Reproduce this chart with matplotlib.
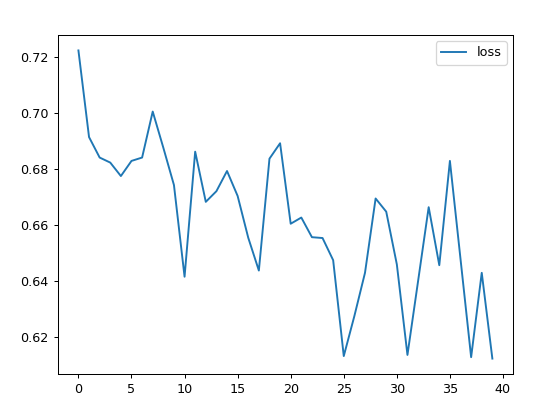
import matplotlib
matplotlib.use("Agg")
import matplotlib.pyplot as plt

epochs = list(range(40))
loss = [0.7223, 0.6914, 0.6841, 0.6823, 0.6775, 0.6829, 0.6841, 0.7005, 0.6876, 0.6743,
        0.6416, 0.6862, 0.6683, 0.6721, 0.6793, 0.6704, 0.6555, 0.6438, 0.6837, 0.6892,
        0.6605, 0.6627, 0.6557, 0.6554, 0.6475, 0.6133, 0.6276, 0.6430, 0.6695, 0.6648,
        0.6460, 0.6137, 0.6400, 0.6664, 0.6457, 0.6829, 0.6479, 0.6129, 0.6430, 0.6124]
series_name = "loss"

dpi = 91.7
fig = plt.figure(figsize=(554 / dpi, 414 / dpi), dpi=dpi)
ax = fig.add_axes([0.1042, 0.0966, 0.8219, 0.8188])
ax.plot(epochs, loss, label=series_name)
ax.legend(loc="upper right")
fig.savefig("out.png", dpi=dpi)
